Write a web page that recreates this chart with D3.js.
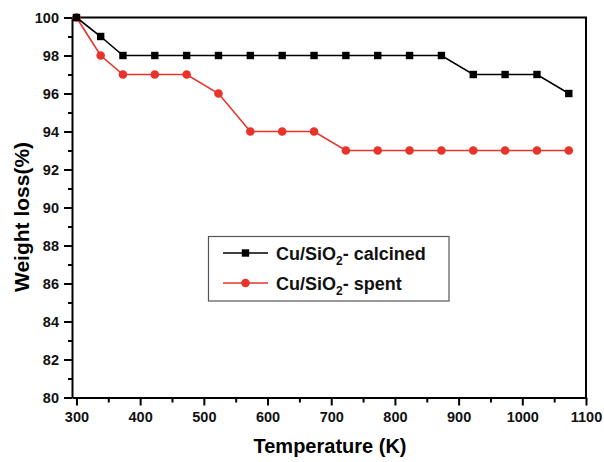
<!DOCTYPE html>
<html>
<head>
<meta charset="utf-8">
<script src="https://cdn.jsdelivr.net/npm/d3@7"></script>
<style>
    body { margin: 0; background: #fff; }
    .axis path, .axis line { stroke: #000; }
</style>
</head>
<body>
<div class="chart"></div>
<script>
// temperatures (K)
var temps = [300, 338, 373, 423, 473, 523, 573, 623, 673, 723, 773, 823, 873, 923, 973, 1023, 1073];
var calcined = [100, 99, 98, 98, 98, 98, 98, 98, 98, 98, 98, 98, 98, 97, 97, 97, 96];
var spent = [100, 98, 97, 97, 97, 96, 94, 94, 94, 93, 93, 93, 93, 93, 93, 93, 93];
var xTicks = [300, 400, 500, 600, 700, 800, 900, 1000, 1100];
var yTicks = [80, 82, 84, 86, 88, 90, 92, 94, 96, 98, 100];
var seriesNames = ["Cu/SiO", "Cu/SiO"];
var seriesSuffix = ["- calcined", "- spent"];

var width = 604, height = 462;
var plotLeft = 72, plotRight = 586, plotTop = 17.5, plotBottom = 397.5;
var fontFam = '"Liberation Sans", Arial, sans-serif';

var svg = d3.select('.chart')
    .append('svg')
    .attr('width', width)
    .attr('height', height);

var x = d3.scaleLinear().domain([293, 1100]).range([plotLeft, plotRight]);
var y = d3.scaleLinear().domain([80, 100]).range([plotBottom, plotTop]);

// minor ticks first
var xMinor = [];
xTicks.forEach(function (t) { if (t + 50 < 1100) xMinor.push(t + 50); });
var yMinor = [];
yTicks.forEach(function (t) { if (t + 1 < 100) yMinor.push(t + 1); });

function styleTicks(g) {
    g.selectAll('line').attr('stroke-width', 2);
    g.selectAll('text')
        .style('font-family', fontFam)
        .style('font-weight', 'bold')
        .style('font-size', '14.5px')
        .style('fill', '#111');
}

svg.append('g')
    .attr('class', 'axis')
    .attr('transform', 'translate(0,' + plotBottom + ')')
    .call(d3.axisBottom(x).tickValues(xMinor).tickSize(5).tickSizeOuter(0).tickFormat(''))
    .call(function (g) { g.select('.domain').remove(); g.selectAll('line').attr('stroke-width', 2); });

svg.append('g')
    .attr('class', 'axis')
    .attr('transform', 'translate(' + plotLeft + ',0)')
    .call(d3.axisLeft(y).tickValues(yMinor).tickSize(4).tickSizeOuter(0).tickFormat(''))
    .call(function (g) { g.select('.domain').remove(); g.selectAll('line').attr('stroke-width', 2); });

svg.append('g')
    .attr('class', 'axis')
    .attr('transform', 'translate(0,' + plotBottom + ')')
    .call(d3.axisBottom(x).tickValues(xTicks).tickSize(8).tickPadding(6).tickSizeOuter(0).tickFormat(d3.format('d')))
    .call(function (g) { g.select('.domain').attr('stroke-width', 2); styleTicks(g); });

svg.append('g')
    .attr('class', 'axis')
    .attr('transform', 'translate(' + plotLeft + ',0)')
    .call(d3.axisLeft(y).tickValues(yTicks).tickSize(8).tickPadding(5).tickSizeOuter(0).tickFormat(d3.format('d')))
    .call(function (g) { g.select('.domain').attr('stroke-width', 2); styleTicks(g); });

// top and right frame
svg.append('path')
    .attr('d', 'M' + plotLeft + ',' + plotTop + 'H' + plotRight + 'V' + plotBottom)
    .attr('fill', 'none')
    .attr('stroke', '#000')
    .attr('stroke-width', 2);

var line = d3.line()
    .x(function (d) { return x(d[0]); })
    .y(function (d) { return y(d[1]); });

var black = '#000', red = '#e8332b';

var spentPts = d3.zip(temps, spent);
var calcPts = d3.zip(temps, calcined);

svg.append('path')
    .datum(spentPts)
    .attr('d', line)
    .attr('fill', 'none')
    .attr('stroke', red)
    .attr('stroke-width', 1.6);

svg.selectAll('circle.spent')
    .data(spentPts)
    .enter()
    .append('circle')
    .attr('class', 'spent')
    .attr('cx', function (d) { return x(d[0]); })
    .attr('cy', function (d) { return y(d[1]); })
    .attr('r', 4.3)
    .attr('fill', red);

svg.append('path')
    .datum(calcPts)
    .attr('d', line)
    .attr('fill', 'none')
    .attr('stroke', black)
    .attr('stroke-width', 1.6);

svg.selectAll('rect.calc')
    .data(calcPts)
    .enter()
    .append('rect')
    .attr('class', 'calc')
    .attr('x', function (d) { return x(d[0]) - 3.7; })
    .attr('y', function (d) { return y(d[1]) - 3.7; })
    .attr('width', 7.4)
    .attr('height', 7.4)
    .attr('fill', black);

// axis titles
svg.append('text')
    .attr('x', 330)
    .attr('y', 453)
    .attr('text-anchor', 'middle')
    .style('font-family', fontFam)
    .style('font-weight', 'bold')
    .style('font-size', '20px')
    .text('Temperature (K)');

svg.append('text')
    .attr('transform', 'translate(29,217) rotate(-90)')
    .attr('text-anchor', 'middle')
    .style('font-family', fontFam)
    .style('font-weight', 'bold')
    .style('font-size', '21px')
    .text('Weight loss(%)');

// legend
var legend = svg.append('g');
legend.append('rect')
    .attr('x', 208.5)
    .attr('y', 236.5)
    .attr('width', 240.5)
    .attr('height', 64.5)
    .attr('fill', '#fff')
    .attr('stroke', '#555')
    .attr('stroke-width', 1.2);

var colors = [black, red];
colors.forEach(function (c, i) {
    var ly = 253 + i * 30;
    legend.append('line')
        .attr('x1', 223).attr('x2', 268)
        .attr('y1', ly).attr('y2', ly)
        .attr('stroke', c)
        .attr('stroke-width', 1.6);
    if (i === 0) {
        legend.append('rect')
            .attr('x', 245.5 - 3.7).attr('y', ly - 3.7)
            .attr('width', 7.4).attr('height', 7.4)
            .attr('fill', c);
    } else {
        legend.append('circle')
            .attr('cx', 245.5).attr('cy', ly)
            .attr('r', 4.3)
            .attr('fill', c);
    }
    var t = legend.append('text')
        .attr('x', 276)
        .attr('y', ly + 6.5)
        .style('font-family', fontFam)
        .style('font-weight', 'bold')
        .style('font-size', '18px')
        .style('fill', '#111');
    t.append('tspan').text(seriesNames[i]);
    t.append('tspan').attr('dy', 5).style('font-size', '12px').text('2');
    t.append('tspan').attr('dy', -5).text(seriesSuffix[i]);
});
</script>
</body>
</html>
